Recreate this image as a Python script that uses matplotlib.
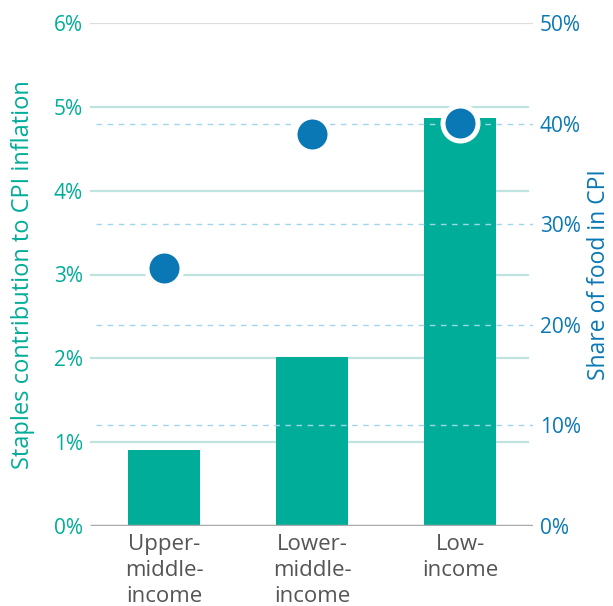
import matplotlib
matplotlib.use('Agg')
import matplotlib.pyplot as plt
from matplotlib.ticker import FuncFormatter

# data
categories = ['Upper-\nmiddle-\nincome', 'Lower-\nmiddle-\nincome', 'Low-\nincome']
staples_contrib = [0.91, 2.01, 4.87]     # % contribution to CPI inflation (left axis)
food_share = [25.6, 39.0, 40.1]          # % share of food in CPI (right axis)

TEAL = '#00ad98'
BLUE = '#0a78b5'
GRID_TEAL = '#bfe3de'
DASH_BLUE = '#9fd6ef'

plt.rcParams['font.family'] = ['Open Sans', 'DejaVu Sans']

fig = plt.figure(figsize=(6.13, 6.06), dpi=100)
ax = fig.add_axes([90 / 613, 80 / 606, 443 / 613, 503 / 606])
ax2 = ax.twinx()

x = list(range(len(categories)))
xmin, xmax = -0.5, 2.49

# left-axis gridlines
for v in range(1, 6):
    ax.plot([xmin, 2.455], [v, v], color=GRID_TEAL, lw=1.6, zorder=0)
ax.plot([xmin, xmax], [6, 6], color='#dddddd', lw=1.6, zorder=0)
ax.plot([xmin, xmax], [0, 0], color='#aaaaaa', lw=2.5, zorder=3, solid_capstyle='butt')

ax.bar(x, staples_contrib, width=0.486, color=TEAL, zorder=2)
ax.set_ylim(0, 6)
ax.set_xlim(xmin, xmax)
ax.set_yticks(range(0, 7))
ax.yaxis.set_major_formatter(FuncFormatter(lambda v, p: f'{v:.0f}%'))
ax.tick_params(axis='y', colors=TEAL, labelsize=15, length=0, pad=5)
ax.set_xticks(x)
ax.set_xticklabels(categories, color='#555555', fontsize=16, linespacing=1.3, va='top')
ax.tick_params(axis='x', length=0, pad=6)
ax.set_ylabel('Staples contribution to CPI inflation', color=TEAL, fontsize=17)
ax.yaxis.label.set_va('center')
ax.yaxis.set_label_coords(-0.151, 0.5)

# right axis: dashed gridlines and dots
ax2.set_ylim(0, 50)
for v in range(10, 50, 10):
    ax2.plot([-0.46, xmax], [v, v], color=DASH_BLUE, lw=1, ls=(0, (4, 4)), zorder=1)
ax2.scatter(x, food_share, s=635, color=BLUE, edgecolor='white', linewidth=3.6, zorder=5, clip_on=False)
ax2.set_yticks(range(0, 60, 10))
ax2.yaxis.set_major_formatter(FuncFormatter(lambda v, p: f'{v:.0f}%'))
ax2.tick_params(axis='y', colors=BLUE, labelsize=15, length=0, pad=5)
ax2.set_ylabel('Share of food in CPI', color=BLUE, fontsize=16.5)
ax2.yaxis.label.set_va('center')
ax2.yaxis.set_label_coords(1.150, 0.5)

for a in (ax, ax2):
    for s in a.spines.values():
        s.set_visible(False)

plt.savefig('out.png', dpi=100)
